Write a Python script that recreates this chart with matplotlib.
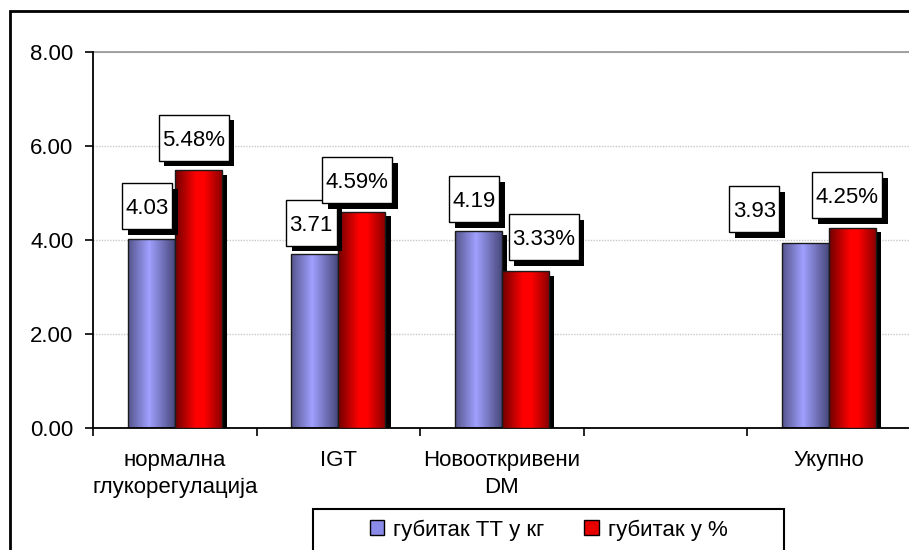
import numpy as np
import matplotlib
matplotlib.use("Agg")
import matplotlib.pyplot as plt
from matplotlib.colors import LinearSegmentedColormap
from matplotlib.patches import Rectangle
from matplotlib.path import Path
import matplotlib.patheffects as pe

plt.rcParams['font.family'] = ['Liberation Sans', 'DejaVu Sans']

# data
categories = ['нормална\nглукорегулација', 'IGT', 'Новооткривени\nDM', '', 'Укупно']
loss_kg = [4.03, 3.71, 4.19, np.nan, 3.93]
loss_pct = [5.48, 4.59, 3.33, np.nan, 4.25]
series_names = ['губитак ТТ у кг', 'губитак у %']
yticks = [0, 2, 4, 6, 8]

# label box shifts in pixels (x, gap above bar)
kg_shift = [(-4, 9.5), (-3.5, 8), (-4, 9), (0, 0), (-51, 11)]
pct_shift = [(-4.5, 9.5), (-4.5, 9), (18.5, 11), (0, 0), (-5, 10)]

FS = 16
LFS = 16
W, H = 909, 550
fig = plt.figure(figsize=(W / 100, H / 100), dpi=100)
ax = fig.add_axes([93 / W, 122 / H, 817.5 / W, 376 / H])

blue_cm = LinearSegmentedColormap.from_list('b', [(0, '#54548c'), (0.45, '#a0a0ff'), (1, '#48487c')])
red_cm = LinearSegmentedColormap.from_list('r', [(0, '#700000'), (0.45, '#ff0000'), (0.62, '#ff0000'), (1, '#8c0000')])
grad = np.linspace(0, 1, 256).reshape(1, -1)
shadow = [pe.SimplePatchShadow(offset=(4, -3), shadow_rgbFace='black', alpha=1.0), pe.Normal()]

bw = 0.287
x = np.arange(len(categories))


def gradient_bars(xs, vals, cmap, z):
    bars = ax.bar(xs, vals, width=bw, align='edge', color=cmap(0.5), zorder=z)
    for b in bars:
        if np.isnan(b.get_height()):
            continue
        b.set_path_effects(shadow)
        im = ax.imshow(grad, cmap=cmap, aspect='auto', zorder=z + 0.1,
                       extent=(b.get_x(), b.get_x() + b.get_width(), 0, b.get_height()))
        im.set_clip_path(b)
    ax.bar(xs, vals, width=bw, align='edge', fill=False, edgecolor='#1a1a1a',
           linewidth=1, zorder=z + 0.2)
    return bars


blue = gradient_bars(x + 0.5 - bw, loss_kg, blue_cm, 2)
red = gradient_bars(x + 0.5, loss_pct, red_cm, 3)

BOX_H = 46  # px
LIFT = 2.5  # px, box sits a little higher than the text bbox centre (digits have no descenders)


def label_box(x0, y0, width, height, mutation_size):
    # fixed-height rectangle around the text, narrow side padding
    hp = 0.16 * mutation_size
    cy = y0 + height / 2 + LIFT
    l, r = x0 - hp, x0 + width + hp
    b, t = cy - BOX_H / 2, cy + BOX_H / 2
    return Path([(l, b), (r, b), (r, t), (l, t), (l, b)], closed=True)


def add_labels(bars, vals, fmt, shifts):
    for b, v, (dx, gap) in zip(bars, vals, shifts):
        if np.isnan(v):
            continue
        t = ax.annotate(fmt.format(v), (b.get_x() + b.get_width() / 2, v),
                        xytext=(dx * 0.72, (gap + BOX_H / 2 - LIFT) * 0.72), textcoords='offset points',
                        ha='center', va='center', fontsize=LFS, zorder=6,
                        bbox=dict(boxstyle=label_box, facecolor='white',
                                  edgecolor='black', linewidth=1))
        t.get_bbox_patch().set_path_effects(
            [pe.SimplePatchShadow(offset=(4, -4), shadow_rgbFace='black', alpha=1.0), pe.Normal()])


add_labels(blue, loss_kg, '{:.2f}', kg_shift)
add_labels(red, loss_pct, '{:.2f}%', pct_shift)

# axes styling
ax.set_xlim(0, len(categories))
ax.set_ylim(0, 8)
ax.set_yticks(yticks)
ax.set_yticklabels([f'{v:.2f}' for v in yticks], fontsize=FS)
ax.tick_params(axis='y', direction='out', length=6, width=1.2, pad=8)
ax.set_xticks(x + 0.5)
ax.set_xticklabels(categories, fontsize=FS, linespacing=1.35)
ax.set_xticks(np.arange(len(categories) + 1), minor=True)
ax.tick_params(axis='x', which='major', length=0, pad=16)
ax.tick_params(axis='x', which='minor', direction='out', length=6, width=1.2)
for s in ['top', 'right']:
    ax.spines[s].set_visible(False)
for s in ['left', 'bottom']:
    ax.spines[s].set_linewidth(1.3)
ax.yaxis.grid(True, color='#c8c8c8', linestyle=(0, (1, 1)), linewidth=1, zorder=0)
ax.axhline(8, color='#9a9a9a', linewidth=1.3, zorder=1, clip_on=False)
ax.set_axisbelow(True)

# legend
handles = [Rectangle((0, 0), 1, 1, facecolor='#8a8ae8', edgecolor='black', linewidth=1),
           Rectangle((0, 0), 1, 1, facecolor='#e80000', edgecolor='black', linewidth=1)]
fig.legend(handles, series_names, loc='center', bbox_to_anchor=(548.5 / W, 1 - 530 / H),
           ncol=2, frameon=False, fontsize=FS, handlelength=0.65, handleheight=0.65,
           handletextpad=0.4, columnspacing=1.8)
fig.add_artist(Rectangle((313 / W, -0.05), 471 / W, 0.05 + 41 / H, transform=fig.transFigure,
                         fill=False, edgecolor='black', linewidth=1.5))

# outer chart frame
fig.add_artist(Rectangle((10 / W, -0.1), 1.2, 1.1 - 11 / H, transform=fig.transFigure,
                         fill=False, edgecolor='black', linewidth=2))

fig.savefig('out.png', dpi=100)
